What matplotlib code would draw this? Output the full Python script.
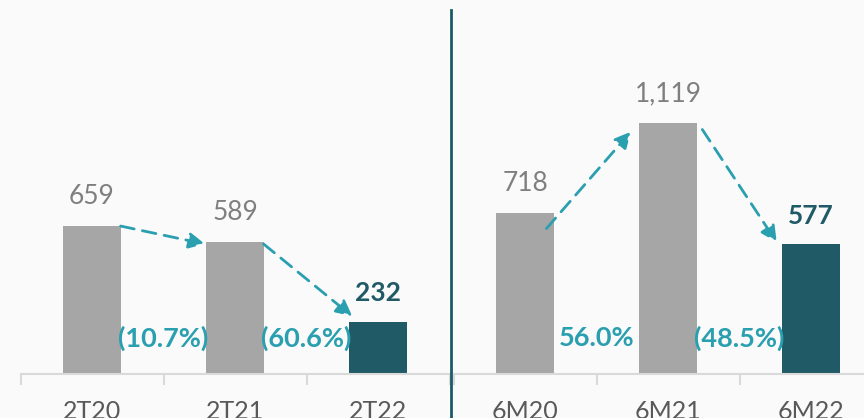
import numpy as np
import matplotlib.pyplot as plt
from matplotlib.lines import Line2D

plt.rcParams['font.family'] = ['Lato', 'DejaVu Sans']

# Дані
left_cats = ['2T20', '2T21', '2T22']
left_vals = [659, 589, 232]
left_pcts = ['(10.7%)', '(60.6%)']

right_cats = ['6M20', '6M21', '6M22']
right_vals = [718, 1119, 577]
right_pcts = ['56.0%', '(48.5%)']

grey = '#A6A6A6'
dark = '#215A67'
teal = '#2A9FAF'
bg = '#FAFAFA'

W, H = 864, 418
fig = plt.figure(figsize=(W / 100, H / 100), dpi=100, facecolor=bg)

base = 374
ymax = base / 0.2245  # пікселів на одиницю


def panel(x0_px, cats, vals, pcts, arrows):
    # одна категорія = 143 px
    width_px = 143 * 3
    ax = fig.add_axes([x0_px / W, (H - base) / H, width_px / W, base / H])
    ax.set_facecolor('none')
    x = np.arange(len(vals))
    colors = [grey, grey, dark]
    ax.bar(x, vals, width=0.41, color=colors, zorder=2)
    ax.set_xlim(-0.5, 2.5)
    ax.set_ylim(0, ymax)
    for s in ['top', 'right', 'left']:
        ax.spines[s].set_visible(False)
    ax.spines['bottom'].set_color('#D9D9D9')
    ax.spines['bottom'].set_linewidth(1.5)
    ax.set_yticks([])
    ax.set_xticks(x)
    ax.set_xticklabels(cats, fontsize=18, color='#595959')
    ax.tick_params(axis='x', which='major', length=0, pad=19)
    ax.set_xticks([-0.5, 0.5, 1.5, 2.5], minor=True)
    ax.tick_params(axis='x', which='minor', length=8, width=1.5, color='#D9D9D9')
    for i, v in enumerate(vals):
        last = i == len(vals) - 1
        ax.annotate(f'{v:,}', (i, v), xytext=(0, 12), textcoords='offset points',
                    ha='center', va='bottom', fontsize=19,
                    color=dark if last else '#7F7F7F',
                    fontweight='bold' if last else 'normal')
    for i, p in enumerate(pcts):
        ax.text(i + 0.5, 160, p, ha='center', va='center', fontsize=19.5,
                fontweight='bold', color=teal, zorder=3)
    for (xa, ya), (xb, yb) in arrows:
        ax.annotate('', xy=(xb, yb), xytext=(xa, ya),
                    arrowprops=dict(arrowstyle='-|>', color=teal, lw=2,
                                    linestyle=(0, (5, 3)), mutation_scale=24,
                                    shrinkA=0, shrinkB=0))
    return ax


panel(20.5, left_cats, left_vals, left_pcts,
      [((0.2, left_vals[0]), (0.79, left_vals[1] - 10)),
       ((1.2, left_vals[1] - 10), (1.82, left_vals[2] + 25))])
panel(453.5, right_cats, right_vals, right_pcts,
      [((0.15, right_vals[0] - 70), (0.74, right_vals[1] - 40)),
       ((1.24, right_vals[1] - 30), (1.76, right_vals[2] + 10))])

fig.add_artist(Line2D([451 / W, 451 / W], [0, (H - 10) / H], color='#1A5C66',
                      lw=2, transform=fig.transFigure))

fig.savefig('out.png', dpi=100, facecolor=bg)
